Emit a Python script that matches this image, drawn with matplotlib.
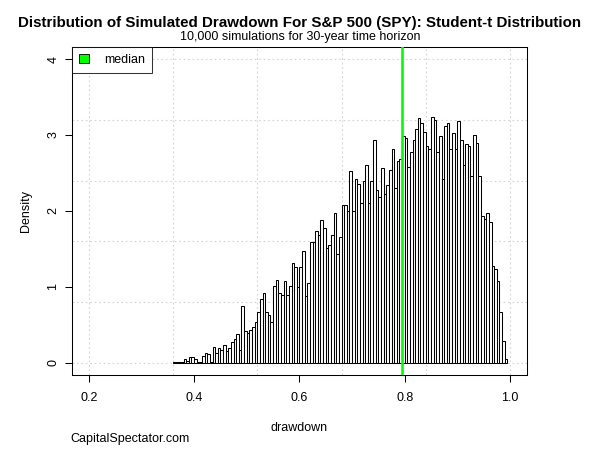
import numpy as np
import matplotlib
matplotlib.use("Agg")
import matplotlib.pyplot as plt
from matplotlib.patches import Patch

plt.rcParams['font.family'] = ['Liberation Sans', 'DejaVu Sans']

# histogram of simulated drawdowns (density scale)
bin_start = 0.36
bin_width = 0.005
density = [
    0.013, 0.005, 0.008, 0.012, 0.046, 0.03, 0.075, 0.075, 0.046, 0.013,
    0.013, 0.088, 0.128, 0.116, 0.015, 0.205, 0.13, 0.19, 0.167, 0.23,
    0.15, 0.195, 0.27, 0.31, 0.38, 0.17, 0.75, 0.42, 0.39, 0.43,
    0.47, 0.54, 0.67, 0.84, 0.92, 0.67, 0.63, 0.54, 1.01, 1.09,
    0.92, 0.89, 1.08, 0.89, 1.01, 1.31, 1.26, 1.00, 1.26, 1.47,
    0.88, 1.05, 1.59, 1.59, 1.74, 1.68, 1.88, 1.78, 1.51, 1.55,
    1.68, 1.97, 1.43, 1.66, 2.08, 2.08, 2.00, 2.53, 2.00, 2.42,
    2.36, 2.11, 2.39, 2.61, 2.11, 2.39, 2.94, 2.28, 2.19, 2.57,
    2.22, 2.34, 2.54, 2.82, 2.30, 2.66, 2.69, 2.99, 2.96, 2.58,
    2.78, 2.94, 3.08, 3.23, 3.16, 3.04, 2.86, 2.82, 3.24, 3.20,
    2.77, 2.99, 2.42, 3.12, 3.16, 2.81, 3.03, 2.81, 3.19, 2.94,
    2.61, 2.88, 2.85, 2.46, 3.00, 2.90, 2.46, 1.93, 1.90, 1.97,
    1.86, 1.28, 1.24, 1.08, 0.67, 0.29, 0.05,
]
median_dd = 0.794

x_ticks = [0.2, 0.4, 0.6, 0.8, 1.0]
y_ticks = [0, 1, 2, 3, 4]
x_grid = [0.2, 0.36, 0.52, 0.68, 0.84, 1.0]
y_grid = [0, 0.8, 1.6, 2.4, 3.2, 4.0]

lefts = bin_start + bin_width * np.arange(len(density))

fig = plt.figure(figsize=(6, 4.5), dpi=100)
ax = fig.add_axes([0.12, 0.1667, 0.758, 0.729])

for gx in x_grid:
    ax.axvline(gx, color='lightgray', linestyle=(0, (1.5, 2.5)), linewidth=0.8, zorder=0)
for gy in y_grid:
    ax.axhline(gy, color='lightgray', linestyle=(0, (1.5, 2.5)), linewidth=0.8, zorder=0)

ax.bar(lefts, density, width=bin_width, align='edge', facecolor='white',
       edgecolor='black', linewidth=0.75, zorder=2)
ax.axvline(median_dd, color='#00ff00', linewidth=1.9, zorder=3)

ax.set_xlim(0.168, 1.032)
ax.set_ylim(-0.16, 4.16)
ax.set_xticks(x_ticks)
ax.set_xticklabels(['0.2', '0.4', '0.6', '0.8', '1.0'])
ax.set_yticks(y_ticks)
ax.set_yticklabels([str(v) for v in y_ticks], rotation=90, va='center')
ax.tick_params(direction='out', length=5, width=0.75, labelsize=9, pad=7)
ax.tick_params(axis='y', pad=4)
for sp in ax.spines.values():
    sp.set_linewidth(0.75)

ax.set_xlabel('drawdown', fontsize=9, labelpad=13)
ax.set_ylabel('Density', fontsize=9, labelpad=11)

leg = ax.legend(handles=[Patch(facecolor='#00ff00', edgecolor='black', linewidth=0.6)],
                labels=['median'], loc='upper left', borderaxespad=0, fancybox=False,
                edgecolor='black', fontsize=9, handlelength=0.8, handleheight=0.8,
                handletextpad=1.2, borderpad=0.55)
leg.get_frame().set_linewidth(0.75)
leg.set_zorder(5)

fig.text(0.5, 1 - 23 / 450, 'Distribution of Simulated Drawdown For S&P 500 (SPY): Student-t Distribution',
         ha='center', va='center', fontsize=10.9, fontweight='bold')
fig.text(0.5, 1 - 37 / 450, '10,000 simulations for 30-year time horizon',
         ha='center', va='center', fontsize=9)
fig.text(70 / 600, 1 - 439 / 450, 'CapitalSpectator.com', ha='left', va='center', fontsize=9)

fig.savefig('out.png', dpi=100)
